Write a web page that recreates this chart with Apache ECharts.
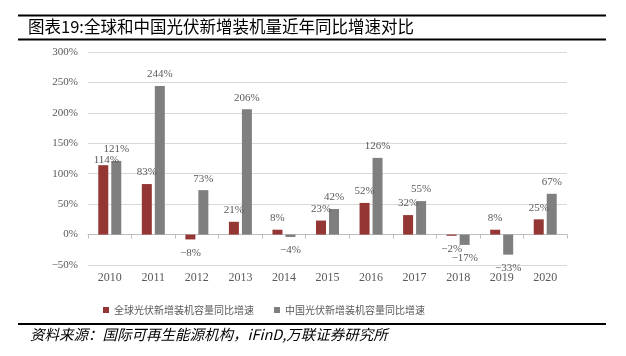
<!DOCTYPE html>
<html><head><meta charset="utf-8">
<script src="https://cdn.jsdelivr.net/npm/echarts@6/dist/echarts.min.js"></script>
<style>html,body{margin:0;padding:0;background:#fff}#c{width:626px;height:356px}</style>
</head><body><div id="c"></div>
<script>
var years = ['2010','2011','2012','2013','2014','2015','2016','2017','2018','2019','2020'];
var globalGrowth = [114, 83, -8, 21, 8, 23, 52, 32, -2, 8, 25];
var chinaGrowth = [121, 244, 73, 206, -4, 42, 126, 55, -17, -33, 67];
var yTicks = {min: -50, max: 300, interval: 50};
var seriesNames = ['全球光伏新增装机容量同比增速', '中国光伏新增装机容量同比增速'];
var titleText = '图表19:全球和中国光伏新增装机量近年同比增速对比';
var sourceText = '资料来源：国际可再生能源机构，iFinD,万联证券研究所';

var serif = '"Liberation Serif","Noto Sans CJK SC",serif';
var cjk = '"Noto Sans CJK SC",sans-serif';
var txtColor = '#595959';

function mkData(arr, special) {
  return arr.map(function (v, i) {
    if (special && special[i]) return Object.assign({value: v}, special[i]);
    return v;
  });
}
function labelCfg() {
  return {
    show: true,
    fontFamily: serif, fontSize: 11, color: txtColor,
    distance: 6,
    formatter: function (p) { return (p.value < 0 ? '\u2212' + Math.abs(p.value) : p.value) + '%'; },
    position: 'top'
  };
}
function neg(arr) {
  var s = {};
  arr.forEach(function (v, i) { if (v < 0) s[i] = {label: {position: 'bottom', distance: 8}}; });
  return s;
}
var gSpecial = neg(globalGrowth);
gSpecial[0] = {label: {position: 'top', distance: 0, offset: [3, 0]}};
var cSpecial = neg(chinaGrowth);

var chart = echarts.init(document.getElementById('c'), null, {renderer: 'canvas'});
chart.setOption({
  animation: false,
  grid: {left: 88, right: 59, top: 52, bottom: 91},
  legend: {
    data: seriesNames, bottom: 36, left: 98, itemWidth: 6, itemHeight: 6, itemGap: 20,
    icon: 'rect', textStyle: {fontFamily: cjk, fontSize: 10, color: txtColor}
  },
  xAxis: [
    {type: 'category', data: years, position: 'bottom',
     axisLine: {show: false, onZero: false}, axisTick: {show: false},
     axisLabel: {fontFamily: serif, fontSize: 12, color: txtColor, margin: 7}},
    {type: 'category', data: years, position: 'bottom',
     axisLine: {show: true, onZero: true, lineStyle: {color: '#bfbfbf', width: 1}},
     axisTick: {show: true, length: 4, lineStyle: {color: '#bfbfbf'}},
     axisLabel: {show: false}}
  ],
  yAxis: {
    type: 'value', min: yTicks.min, max: yTicks.max, interval: yTicks.interval,
    axisLine: {show: false}, axisTick: {show: false},
    axisLabel: {fontFamily: serif, fontSize: 11, color: txtColor, margin: 10,
      formatter: function (v) { return (v < 0 ? '\u2212' + Math.abs(v) : v) + '%'; }},
    splitLine: {lineStyle: {color: '#d9d9d9', width: 1}}
  },
  series: [
    {name: seriesNames[0], type: 'bar', xAxisIndex: 0, data: mkData(globalGrowth, gSpecial),
     barWidth: 10, barGap: '30%', itemStyle: {color: '#943634'}, label: labelCfg()},
    {name: seriesNames[1], type: 'bar', xAxisIndex: 0, data: mkData(chinaGrowth, cSpecial),
     barWidth: 10, barGap: '30%', itemStyle: {color: '#7f7f7f'}, label: labelCfg()}
  ],
  graphic: [
    {type: 'line', shape: {x1: 18, y1: 15.5, x2: 606, y2: 15.5}, style: {stroke: '#000', lineWidth: 2}},
    {type: 'line', shape: {x1: 18, y1: 39.5, x2: 606, y2: 39.5}, style: {stroke: '#000', lineWidth: 2}},
    {type: 'text', left: 28, top: 18, style: {text: titleText, font: '16.5px ' + cjk, fill: '#000'}},
    {type: 'line', shape: {x1: 18, y1: 324, x2: 606, y2: 324}, style: {stroke: '#000', lineWidth: 2}},
    {type: 'text', left: 30, top: 327, style: {text: sourceText, font: 'italic 14.5px ' + cjk, fill: '#000'}}
  ]
});
</script></body></html>
